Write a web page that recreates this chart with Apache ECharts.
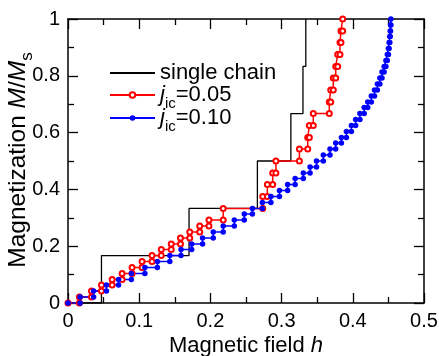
<!DOCTYPE html>
<html>
<head>
<meta charset="utf-8">
<script src="https://cdn.jsdelivr.net/npm/echarts@6/dist/echarts.min.js"></script>
<style>
  html, body { margin: 0; padding: 0; background: #fff; }
  #chart { width: 439px; height: 356px; }
</style>
</head>
<body>
<div id="chart"></div>
<script>
// critical fields h where each step starts, and the level M/Ms reached there
const singleField = [0.047, 0.170, 0.266, 0.313, 0.330, 0.334]
const singleLevel = [0.167, 0.333, 0.5, 0.667, 0.833, 1]

const redField = [0.016, 0.033, 0.047, 0.062, 0.076, 0.090, 0.104, 0.118, 0.131, 0.145, 0.158, 0.171, 0.185, 0.198, 0.218,
  0.2735, 0.280, 0.2875, 0.292, 0.325, 0.3367, 0.339, 0.3445, 0.367, 0.369, 0.3726, 0.376, 0.3788, 0.382, 0.3834, 0.3858]
const redLevel = [0.021, 0.042, 0.063, 0.083, 0.104, 0.125, 0.146, 0.167, 0.188, 0.208, 0.229, 0.25, 0.271, 0.292, 0.333,
  0.375, 0.417, 0.458, 0.5, 0.542, 0.583, 0.625, 0.667, 0.708, 0.75, 0.792, 0.833, 0.875, 0.917, 0.958, 1]

const blueField = [0.017, 0.036, 0.054, 0.071, 0.089, 0.108, 0.1255, 0.143, 0.1587, 0.1737, 0.189, 0.204, 0.218, 0.2336, 0.2476, 0.259,
  0.273, 0.285, 0.297, 0.3085, 0.319, 0.3305, 0.340, 0.349, 0.3586, 0.368, 0.376, 0.384, 0.391, 0.398, 0.404, 0.410,
  0.416, 0.421, 0.426, 0.4305, 0.4345, 0.438, 0.441, 0.444, 0.4465, 0.4485, 0.450, 0.451, 0.452, 0.4525, 0.453, 0.4535]
const blueLevel = [0.021, 0.042, 0.063, 0.083, 0.104, 0.125, 0.146, 0.167, 0.188, 0.208, 0.229, 0.25, 0.271, 0.292, 0.313, 0.333,
  0.354, 0.375, 0.396, 0.417, 0.438, 0.458, 0.479, 0.5, 0.521, 0.542, 0.563, 0.583, 0.604, 0.625, 0.646, 0.667,
  0.688, 0.708, 0.729, 0.75, 0.771, 0.792, 0.813, 0.833, 0.854, 0.875, 0.896, 0.917, 0.938, 0.958, 0.979, 1]

const seriesNames = ['single chain', 'j_ic=0.05', 'j_ic=0.10']

const font = '"Liberation Sans", Arial, Helvetica, sans-serif'
const black = '#000'

// corner points of a staircase: flat at the old level, then straight up
function stairs(fields, levels) {
  const pts = [[0, 0]]
  let prev = 0
  fields.forEach((h, i) => {
    pts.push([h, prev])
    pts.push([h, levels[i]])
    prev = levels[i]
  })
  return pts
}

function richSet(size) {
  return {
    i: { fontStyle: 'italic', fontSize: size, fontFamily: font, color: black, lineHeight: size, verticalAlign: 'bottom' },
    r: { fontSize: size, fontFamily: font, color: black, lineHeight: size, verticalAlign: 'bottom' },
    sub: { fontSize: Math.round(size * 0.68), fontFamily: font, color: black, lineHeight: Math.round(size * 0.68), verticalAlign: 'bottom', padding: [0, 0, -5, 0] }
  }
}

function axisBase(show) {
  return {
    axisLine: { show: true, onZero: false, lineStyle: { color: black, width: 1.5 } },
    axisTick: { show: true, inside: true, length: 10, lineStyle: { color: black, width: 1.3 } },
    minorTick: { show: true, splitNumber: 2, length: 6, lineStyle: { color: black, width: 1.3 } },
    splitLine: { show: false },
    axisLabel: { show: show, color: black, fontSize: 20, fontFamily: font },
    nameMoveOverlap: false
  }
}

// one legend block per entry so each row sits where the reference has it
const legendTops = [57, 79, 102]
const legends = seriesNames.map((name, i) => ({
  orient: 'vertical',
  left: 104,
  top: legendTops[i],
  itemWidth: 45,
  itemHeight: 7,
  data: [i === 0 ? { name: name, itemStyle: { opacity: 0 } } : { name: name }],
  textStyle: { fontSize: 22, fontFamily: font, color: black, rich: richSet(22) },
  formatter: (n) => {
    if (n === 'single chain') return '{r|single chain}'
    return '{i|j}{sub|ic}{r|=' + n.split('=')[1] + '}'
  }
}))

const chart = echarts.init(document.getElementById('chart'), null, { renderer: 'canvas' })

const option = {
  animation: false,
  backgroundColor: '#fff',
  grid: { left: 68, right: 15, top: 19, bottom: 53, containLabel: false, outerBoundsMode: 'none' },
  legend: legends,
  xAxis: [
    Object.assign(axisBase(true), {
      type: 'value', min: 0, max: 0.5, interval: 0.1, position: 'bottom',
      name: '{r|Magnetic field }{i|h}',
      nameLocation: 'middle', nameGap: 32,
      nameTextStyle: { rich: richSet(22) }
    }),
    Object.assign(axisBase(false), { type: 'value', min: 0, max: 0.5, interval: 0.1, position: 'top' })
  ],
  yAxis: [
    Object.assign(axisBase(true), {
      type: 'value', min: 0, max: 1, interval: 0.2, position: 'left',
      name: '{r|Magnetization }{i|M}{r|/}{i|M}{sub|s}',
      nameLocation: 'middle', nameGap: 37,
      nameTextStyle: { rich: richSet(24.5), padding: [0, 0, 0, 2] }
    }),
    Object.assign(axisBase(false), { type: 'value', min: 0, max: 1, interval: 0.2, position: 'right' })
  ],
  series: [
    {
      name: seriesNames[0], type: 'line', symbol: 'none',
      lineStyle: { color: black, width: 1.3 },
      itemStyle: { color: black },
      data: stairs(singleField, singleLevel)
    },
    {
      name: seriesNames[1], type: 'line', symbol: 'emptyCircle', symbolSize: 5,
      lineStyle: { color: '#ff0000', width: 1.5 },
      itemStyle: { color: '#ff0000', borderWidth: 1.2 },
      data: stairs(redField, redLevel)
    },
    {
      name: seriesNames[2], type: 'line', symbol: 'circle', symbolSize: 5.5,
      lineStyle: { color: '#0000ff', width: 1.5 },
      itemStyle: { color: '#0000ff' },
      data: stairs(blueField, blueLevel)
    }
  ]
}

chart.setOption(option)
</script>
</body>
</html>
